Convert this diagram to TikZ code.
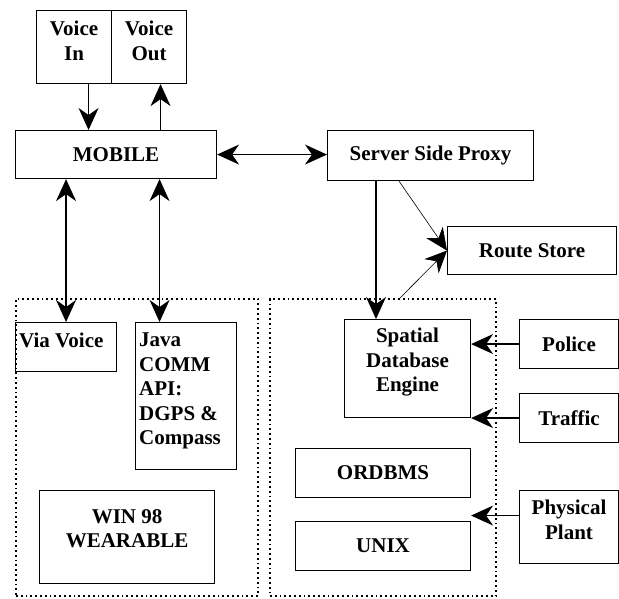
\documentclass[tikz,border=0pt]{standalone}
\usepackage{fontspec}
\setmainfont{Liberation Serif}
\usetikzlibrary{positioning, calc, arrows.meta}

\begin{document}
\begin{tikzpicture}[x=1pt, y=-1pt,
    blk/.style={draw, line width=1.1pt, rectangle, anchor=north west, inner sep=0pt},
    txt/.style={font=\fontsize{21}{24.5}\selectfont\bfseries, align=center, inner sep=0pt},
    grp/.style={draw, line width=1.8pt, dash pattern=on 1.8pt off 3pt, rectangle, anchor=north west, inner sep=0pt},
    arr/.style={-{Stealth[length=22pt, width=20pt, inset=7pt]}, line width=1.2pt},
    barr/.style={{Stealth[length=22pt, width=20pt, inset=7pt]}-{Stealth[length=22pt, width=20pt, inset=7pt]}, line width=1.2pt},
    tarr/.style={-{Stealth[length=22pt, width=20pt, inset=7pt]}, line width=0.6pt},
]
\useasboundingbox (0,0) rectangle (619,598);

% the two dotted groups
\node[grp, minimum width=242pt, minimum height=297pt] (client) at (15,298) {};
\node[grp, minimum width=226pt, minimum height=297pt] (server) at (269,298) {};

% mobile side
\node[blk, minimum width=75pt, minimum height=73pt] (vin) at (36,10) {};
\node[blk, minimum width=75pt, minimum height=73pt] (vout) at (111,10) {};
\node[txt, anchor=north] (vin-t) at ([yshift=-11pt]vin.north) {Voice\\In};
\node[txt, anchor=north] (vout-t) at ([yshift=-11pt]vout.north) {Voice\\Out};
\node[blk, txt, minimum width=201pt, minimum height=48pt] (mob) at (15,130) {MOBILE};

\node[blk, minimum width=101pt, minimum height=49pt] (via) at (15,322) {};
\node[txt, anchor=north west, align=left] (via-t) at ([xshift=4pt,yshift=-11pt]via.north west) {Via Voice};
\node[blk, minimum width=101pt, minimum height=147pt] (java) at (135,322) {};
\node[txt, anchor=north west, align=left] (java-t) at ([xshift=4pt,yshift=-11pt]java.north west) {Java\\COMM\\API:\\DGPS \&\\Compass};
\node[blk, minimum width=175pt, minimum height=93pt] (win) at (39,490) {};
\node[txt, anchor=north] (win-t) at ([yshift=-19pt]win.north) {WIN 98\\WEARABLE};

% server side
\node[blk, txt, minimum width=206pt, minimum height=50pt] (proxy) at (327,130) {Server Side Proxy};
\node[blk, txt, minimum width=169pt, minimum height=48pt] (route) at (447,226) {Route Store};
\node[blk, minimum width=126pt, minimum height=98pt] (spde) at (344,319) {};
\node[txt, anchor=north] (spde-t) at ([yshift=-9pt]spde.north) {Spatial\\Database\\Engine};
\node[blk, txt, minimum width=175pt, minimum height=49pt] (ordbms) at (295,448) {ORDBMS};
\node[blk, txt, minimum width=175pt, minimum height=49pt] (unix) at (295,521) {UNIX};

% feeds
\node[blk, txt, minimum width=99pt, minimum height=49pt] (police) at (519,319) {Police};
\node[blk, txt, minimum width=99pt, minimum height=49pt] (traffic) at (519,393) {Traffic};
\node[blk, minimum width=99pt, minimum height=73pt] (plant) at (519,490) {};
\node[txt, anchor=north] (plant-t) at ([yshift=-10pt]plant.north) {Physical\\Plant};

% connectors
\draw[arr] ([xshift=14.5pt]vin.south) -- ([xshift=14.5pt]vin.south |- mob.north);
\draw[arr] ([xshift=11.5pt]vout.south |- mob.north) -- ([xshift=11.5pt]vout.south);
\draw[barr] (mob.east) -- (mob.east -| proxy.west);
\draw[barr] (mob.south -| via.north) -- (via.north);
\draw[barr] ([xshift=-26.5pt]java.north |- mob.south) -- ([xshift=-26.5pt]java.north);
\draw[arr] ([xshift=49pt]proxy.south west) -- ([xshift=49pt]proxy.south west |- spde.north);
\draw[tarr] ([xshift=72pt]proxy.south west) -- (route.west);
\draw[tarr] ([xshift=131pt]server.north west) -- (route.west);
\draw[arr] (police.west) -- (police.west -| spde.east);
\draw[arr] (traffic.west) -- (traffic.west -| spde.east);
\draw[arr] ([yshift=11.5pt]plant.west) -- ([yshift=11.5pt]plant.west -| unix.east);
\end{tikzpicture}
\end{document}
